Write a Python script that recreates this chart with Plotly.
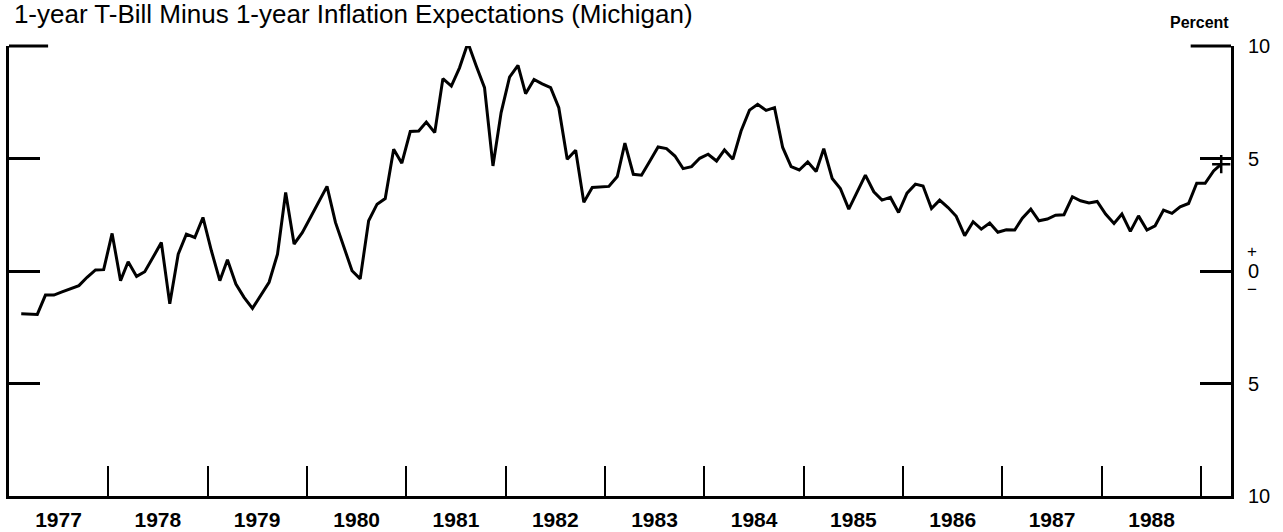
import pandas as pd
import plotly.graph_objects as go

# Monthly values (percent), Feb 1977 .. Mar 1989
y1977 = [-1.90, -1.92, -1.93, -1.07, -1.07, -0.93, -0.80, -0.65, -0.28, 0.05, 0.06]  # Feb-Dec
y1978 = [1.67, -0.43, 0.41, -0.24, -0.03, 0.62, 1.27, -1.46, 0.75, 1.64, 1.49, 2.38]
y1979 = [0.90, -0.43, 0.50, -0.58, -1.17, -1.66, -1.10, -0.50, 0.75, 3.49, 1.20, 1.70]
y1980 = [2.40, 3.12, 3.76, 2.16, 1.05, 0.01, -0.35, 2.23, 2.97, 3.22, 5.41, 4.79]
y1981 = [6.20, 6.22, 6.62, 6.15, 8.55, 8.22, 9.03, 10.14, 9.10, 8.15, 4.67, 7.04]
y1982 = [8.62, 9.14, 7.88, 8.51, 8.32, 8.15, 7.26, 4.97, 5.37, 3.05, 3.71, 3.72]
y1983 = [3.76, 4.20, 5.68, 4.30, 4.26, 4.89, 5.51, 5.44, 5.11, 4.55, 4.64, 5.01]
y1984 = [5.19, 4.89, 5.38, 4.97, 6.22, 7.15, 7.41, 7.14, 7.26, 5.49, 4.64, 4.49]
y1985 = [4.85, 4.42, 5.44, 4.11, 3.67, 2.75, 3.49, 4.26, 3.52, 3.15, 3.27, 2.60]
y1986 = [3.46, 3.86, 3.78, 2.78, 3.15, 2.82, 2.43, 1.57, 2.19, 1.86, 2.13, 1.72]
y1987 = [1.83, 1.82, 2.35, 2.75, 2.23, 2.31, 2.48, 2.50, 3.30, 3.12, 3.02, 3.09]
y1988 = [2.53, 2.11, 2.53, 1.76, 2.45, 1.82, 2.01, 2.71, 2.56, 2.85, 3.00, 3.90]
y1989 = [3.90, 4.45, 4.75]  # Jan-Mar

values = (y1977 + y1978 + y1979 + y1980 + y1981 + y1982 + y1983 + y1984
          + y1985 + y1986 + y1987 + y1988 + y1989)
start_month = "1977-02-01"
dates = pd.date_range(start_month, periods=len(values), freq="MS") + pd.Timedelta(days=14)

years = list(range(1977, 1989))
year_labels = [str(y) for y in years]
year_bounds = [f"{y}-01-01" for y in range(1978, 1990)]
year_mids = [f"{y}-07-02" for y in years]

y_ticks = [-10, -5, 0, 5, 10]
y_ticktext = ["10", "5", "0", "5", "10"]

title_text = "1-year T-Bill Minus 1-year Inflation Expectations (Michigan)"
x_range = ["1977-01-01", "1989-04-20"]

FONT = "Liberation Sans, Arial, sans-serif"

fig = go.Figure()
fig.add_trace(go.Scatter(x=dates, y=values, mode="lines",
                         line=dict(color="black", width=3),
                         showlegend=False, hoverinfo="skip"))
fig.add_trace(go.Scatter(x=[dates[-1]], y=[values[-1]], mode="markers",
                         marker=dict(symbol="cross-thin", size=13,
                                     line=dict(color="black", width=2.5)),
                         showlegend=False, hoverinfo="skip"))
# helper trace so the overlay axes are drawn
fig.add_trace(go.Scatter(x=[dates[0]], y=[values[0]], xaxis="x2", yaxis="y2",
                         mode="markers", marker=dict(opacity=0),
                         showlegend=False, hoverinfo="skip"))

fig.update_layout(
    width=1283, height=532,
    margin=dict(l=9, r=52, t=46, b=36, autoexpand=False),
    paper_bgcolor="white", plot_bgcolor="white",
    font=dict(family=FONT, color="black"),
    title=dict(text=title_text, x=0.004, xanchor="left", xref="paper",
               y=1 - 14 / 532, yanchor="middle", yref="container",
               font=dict(size=26, family=FONT, color="black")),
    xaxis=dict(type="date", range=x_range, tickvals=year_bounds,
               ticks="inside", ticklen=30, tickwidth=2, tickcolor="black",
               showticklabels=False, showline=True, linewidth=3, linecolor="black",
               showgrid=False, zeroline=False, anchor="y", automargin=False),
    xaxis2=dict(type="date", range=x_range, overlaying="x", side="bottom", anchor="y",
                tickvals=year_mids, ticktext=year_labels, ticks="",
                showline=False, showgrid=False, zeroline=False, automargin=False,
                tickfont=dict(size=21, family=FONT, weight="bold"),
                ticklabelstandoff=9),
    yaxis=dict(range=[-10, 10], side="right", tickvals=y_ticks, ticktext=y_ticktext,
               ticks="inside", ticklen=31, tickwidth=2.5, tickcolor="black",
               showline=True, linewidth=3, linecolor="black",
               showgrid=False, zeroline=False, anchor="x", automargin=False,
               tickfont=dict(size=20, family=FONT), ticklabelstandoff=10),
    yaxis2=dict(range=[-10, 10], side="left", overlaying="y", anchor="x",
                tickvals=[-5, 0, 5], ticks="inside", ticklen=31, tickwidth=2.5,
                tickcolor="black", showticklabels=False, automargin=False,
                showline=True, linewidth=3, linecolor="black",
                showgrid=False, zeroline=False),
)

# top short ticks at +10 on both sides
fig.add_shape(type="line", xref="paper", yref="paper", x0=0, x1=0.032, y0=1, y1=1,
              line=dict(color="black", width=3))
fig.add_shape(type="line", xref="paper", yref="paper", x0=0.967, x1=1, y0=1, y1=1,
              line=dict(color="black", width=3))

# "+" and "−" marks around the zero label
fig.add_annotation(text="+", x=1, xref="paper", y=0, yref="y", xanchor="left",
                   xshift=14, yshift=20, showarrow=False, font=dict(size=17, family=FONT))
fig.add_annotation(text="−", x=1, xref="paper", y=0, yref="y", xanchor="left",
                   xshift=14, yshift=-18, showarrow=False, font=dict(size=17, family=FONT))
fig.add_annotation(text="<b>Percent</b>", x=1, xref="paper", xanchor="right",
                   y=1, yref="paper", yanchor="middle", yshift=24, showarrow=False,
                   font=dict(size=16, family=FONT))

fig.write_html("out.html", config={"displayModeBar": False},
               post_script="document.body.style.margin='0';document.body.style.overflow='hidden';")
